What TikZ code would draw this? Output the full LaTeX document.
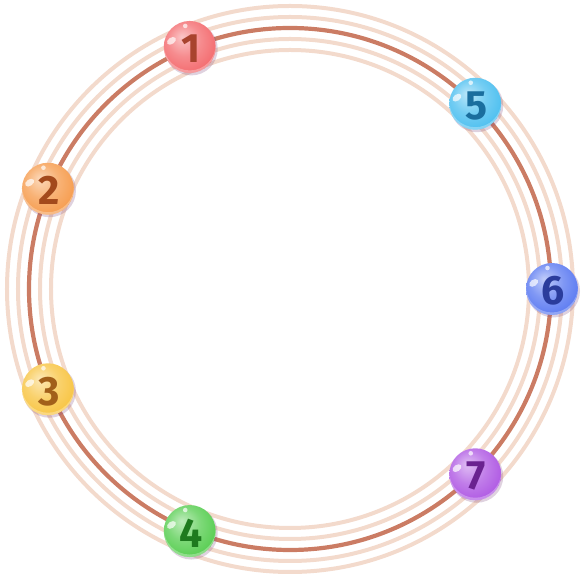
\documentclass[tikz,border=0pt]{standalone}
\usepackage{fontspec}
\setmainfont{Fira Sans}
\usepackage{tikz}

\definecolor{ringlight}{HTML}{F3DACC}
\definecolor{ringdark}{HTML}{CB7C64}
\definecolor{ballc}{HTML}{F25A5E}
\definecolor{digc}{HTML}{A8432E}
\pgfdeclareradialshading[ballc]{glossy}{\pgfpoint{-8bp}{10bp}}{%
  color(0bp)=(ballc!35!white); color(16bp)=(ballc!70!white);
  color(34bp)=(ballc!95!white); color(50bp)=(ballc!95!black)}

\begin{document}
\begin{tikzpicture}[x=1pt, y=1pt,
  ring/.style={draw=ringlight, line width=4pt},
  mainring/.style={draw=ringdark, line width=4.2pt},
  ball/.style={circle, minimum size=52pt, inner sep=0pt, shade, shading=glossy},
  digit/.style={inner sep=0pt, font=\bfseries\fontsize{41}{41}\selectfont},
  shine/.style={fill=white, opacity=0.7},
  shadow/.style={fill=violet!40!gray, opacity=0.25}]

  \useasboundingbox (-290,-291) rectangle (294,289);

  % rings
  \foreach \r in {239,250,272,283}
    \draw[ring] (0,0) circle (\r);
  \draw[mainring] (0,0) circle (261);

  % balls on the middle ring
  \foreach \n/\a/\bc/\dc in {1/112.5/F25A5E/A8432E, 2/157.5/F5913A/A34A1C,
      3/202.5/F7BE2E/A2601A, 4/247.5/45C83E/1E7A1E, 5/45/38B8EE/1A6E9E,
      6/0/4A6CF0/2A3C9C, 7/-45/A646E0/6A2290} {
    \definecolor{ballc}{HTML}{\bc}
    \definecolor{digc}{HTML}{\dc}
    \fill[shadow] (\a:262) ++(1.5,-2) circle (26.5);
    \node[ball] (b\n) at (\a:262) {};
    \begin{scope}
      \clip (b\n.center) circle (26);
      \fill[white, opacity=0.3, even odd rule] (b\n.center) circle (26)
        ([yshift=2.5]b\n.center) circle (26);
    \end{scope}
    \fill[shine, rotate around={35:([shift={(-11.5,15.5)}]b\n.center)}]
      ([shift={(-11.5,15.5)}]b\n.center) ellipse (5 and 3.2);
    \fill[shine] ([shift={(-4.5,21)}]b\n.center) circle (2.3);
    \node[digit, text=digc] (d\n) at ([shift={(1,-2)}]b\n.center) {\n};
  }
\end{tikzpicture}
\end{document}
